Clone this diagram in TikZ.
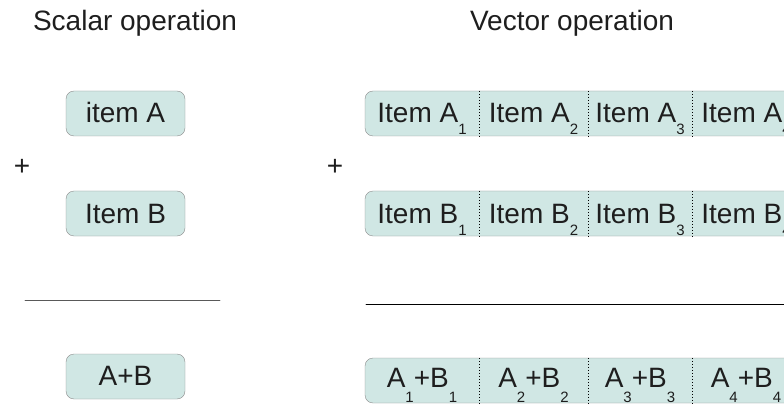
\documentclass[tikz,border=0pt]{standalone}
\usepackage{fontspec}
\setmainfont{Liberation Sans}
\usetikzlibrary{positioning}
\definecolor{boxfill}{RGB}{208,231,228}
\definecolor{boxline}{RGB}{140,140,140}
\definecolor{txt}{RGB}{30,30,30}
\newcommand{\lowsub}[2][12pt]{\raisebox{-#1}{\fontsize{15}{15}\selectfont #2}}

\begin{document}
\begin{tikzpicture}[x=1pt,y=-1pt,line cap=round,line join=round,
	every node/.style={text=txt,font=\fontsize{28}{32}\selectfont},
	itembox/.style={draw=boxline,fill=boxfill,rounded corners=8pt,minimum height=45pt,inner sep=0pt},
	cell/.style={minimum height=45pt,inner sep=0pt,text height=19pt,text depth=0pt},
	sep/.style={line width=0.6pt,line cap=butt,dash pattern=on 1pt off 2pt}]
	\useasboundingbox (0,0) rectangle (784,406);
	\clip (0,0) rectangle (784,406);
	% titles
	\node (stitle) at (135,23) {Scalar operation};
	\node (vtitle) at (572,23) {Vector operation};
	% scalar side
	\node[itembox,minimum width=119pt] (sa) at (125.5,113.5) {};
	\node[cell] (sat) at (sa) {item A};
	\node[itembox,minimum width=119pt] (sb) at (125.5,213.5) {};
	\node[cell] (sbt) at (sb) {Item B};
	\node (splus) at (22,167) {+};
	\draw[line width=0.9pt,color=black!65] (25,300) coordinate (sl) -- (220,300) coordinate (sr);
	\node[itembox,minimum width=119pt] (ss) at (125.5,376.5) {};
	\node[cell,text height=17pt] (sst) at (ss) {A+B};
	% vector side
	\node[itembox,minimum width=440pt] (va) at (585,113.5) {};
	\node[itembox,minimum width=440pt] (vb) at (585,213.5) {};
	\node[itembox,minimum width=440pt] (vs) at (585,380.5) {};
	\node (vplus) at (335,167) {+};
	\draw[line width=0.9pt] (366,304) coordinate (vl) -- (784,304) coordinate (vr);
	\foreach \i/\cx/\w in {1/422/114,2/533.5/109,3/640/104,4/746/108}{
		\node[cell,minimum width=\w pt] (a\i) at (\cx,113.5) {Item A\lowsub{\i}};
		\node[cell,minimum width=\w pt] (b\i) at (\cx,213.5) {Item B\lowsub{\i}};
		\node[cell,minimum width=\w pt,text height=14pt] (s\i) at (\cx,380.5) {A\lowsub[15pt]{\i}+B\lowsub[15pt]{\i}};
	}
	\foreach \i in {1,2,3}{
		\draw[sep] (a\i.north east) -- (a\i.south east);
		\draw[sep] (b\i.north east) -- (b\i.south east);
		\draw[sep] (s\i.north east) -- (s\i.south east);
	}
\end{tikzpicture}
\end{document}
